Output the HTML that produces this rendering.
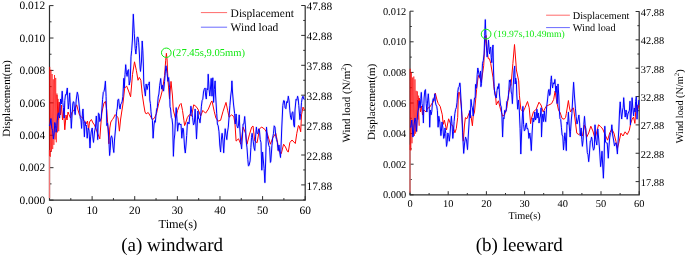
<!DOCTYPE html>
<html><head><meta charset="utf-8"><style>
html,body{margin:0;padding:0;background:#fff;width:685px;height:257px;overflow:hidden}
svg{display:block;will-change:transform}
text{font-family:"Liberation Serif", serif;fill:#000;text-rendering:geometricPrecision}
</style></head><body>
<svg width="685" height="257" viewBox="0 0 685 257">
<path d="M49.5 5.6V200.1H305.2V5.6" fill="none" stroke="#2e2e2e" stroke-width="1.2"/>
<path d="M49.5 200.1h4" stroke="#2e2e2e"/>
<text x="45.2" y="203.8" text-anchor="end" font-size="11.4">0.000</text>
<path d="M49.5 183.89h2" stroke="#2e2e2e"/>
<path d="M49.5 167.68h4" stroke="#2e2e2e"/>
<text x="45.2" y="171.38" text-anchor="end" font-size="11.4">0.002</text>
<path d="M49.5 151.47h2" stroke="#2e2e2e"/>
<path d="M49.5 135.27h4" stroke="#2e2e2e"/>
<text x="45.2" y="138.97" text-anchor="end" font-size="11.4">0.004</text>
<path d="M49.5 119.06h2" stroke="#2e2e2e"/>
<path d="M49.5 102.85h4" stroke="#2e2e2e"/>
<text x="45.2" y="106.55" text-anchor="end" font-size="11.4">0.006</text>
<path d="M49.5 86.64h2" stroke="#2e2e2e"/>
<path d="M49.5 70.43h4" stroke="#2e2e2e"/>
<text x="45.2" y="74.13" text-anchor="end" font-size="11.4">0.008</text>
<path d="M49.5 54.23h2" stroke="#2e2e2e"/>
<path d="M49.5 38.02h4" stroke="#2e2e2e"/>
<text x="45.2" y="41.72" text-anchor="end" font-size="11.4">0.010</text>
<path d="M49.5 21.81h2" stroke="#2e2e2e"/>
<path d="M49.5 5.6h4" stroke="#2e2e2e"/>
<text x="45.2" y="9.3" text-anchor="end" font-size="11.4">0.012</text>
<path d="M305.2 5.5h-4" stroke="#2e2e2e"/>
<text x="306.6" y="10.2" font-size="11.4">47.88</text>
<path d="M305.2 20.45h-2" stroke="#2e2e2e"/>
<path d="M305.2 35.4h-4" stroke="#2e2e2e"/>
<text x="306.6" y="40.1" font-size="11.4">42.88</text>
<path d="M305.2 50.35h-2" stroke="#2e2e2e"/>
<path d="M305.2 65.3h-4" stroke="#2e2e2e"/>
<text x="306.6" y="70" font-size="11.4">37.88</text>
<path d="M305.2 80.25h-2" stroke="#2e2e2e"/>
<path d="M305.2 95.2h-4" stroke="#2e2e2e"/>
<text x="306.6" y="99.9" font-size="11.4">32.88</text>
<path d="M305.2 110.15h-2" stroke="#2e2e2e"/>
<path d="M305.2 125.1h-4" stroke="#2e2e2e"/>
<text x="306.6" y="129.8" font-size="11.4">27.88</text>
<path d="M305.2 140.05h-2" stroke="#2e2e2e"/>
<path d="M305.2 155h-4" stroke="#2e2e2e"/>
<text x="306.6" y="159.7" font-size="11.4">22.88</text>
<path d="M305.2 169.95h-2" stroke="#2e2e2e"/>
<path d="M305.2 184.9h-4" stroke="#2e2e2e"/>
<text x="306.6" y="189.6" font-size="11.4">17.88</text>
<path d="M305.2 199.85h-2" stroke="#2e2e2e"/>
<path d="M49.5 200.1v-4" stroke="#2e2e2e"/>
<text x="49.5" y="214.2" text-anchor="middle" font-size="11.4">0</text>
<path d="M70.81 200.1v-2" stroke="#2e2e2e"/>
<path d="M92.12 200.1v-4" stroke="#2e2e2e"/>
<text x="92.12" y="214.2" text-anchor="middle" font-size="11.4">10</text>
<path d="M113.43 200.1v-2" stroke="#2e2e2e"/>
<path d="M134.73 200.1v-4" stroke="#2e2e2e"/>
<text x="134.73" y="214.2" text-anchor="middle" font-size="11.4">20</text>
<path d="M156.04 200.1v-2" stroke="#2e2e2e"/>
<path d="M177.35 200.1v-4" stroke="#2e2e2e"/>
<text x="177.35" y="214.2" text-anchor="middle" font-size="11.4">30</text>
<path d="M198.66 200.1v-2" stroke="#2e2e2e"/>
<path d="M219.97 200.1v-4" stroke="#2e2e2e"/>
<text x="219.97" y="214.2" text-anchor="middle" font-size="11.4">40</text>
<path d="M241.28 200.1v-2" stroke="#2e2e2e"/>
<path d="M262.58 200.1v-4" stroke="#2e2e2e"/>
<text x="262.58" y="214.2" text-anchor="middle" font-size="11.4">50</text>
<path d="M283.89 200.1v-2" stroke="#2e2e2e"/>
<path d="M305.2 200.1v-4" stroke="#2e2e2e"/>
<text x="305.2" y="214.2" text-anchor="middle" font-size="11.4">60</text>
<text x="177.8" y="227.8" text-anchor="middle" font-size="12.3">Time(s)</text>
<text transform="translate(9.8 98.5) rotate(-90)" text-anchor="middle" font-size="11">Displacement(m)</text>
<text transform="translate(349.6 103.0) rotate(-90)" text-anchor="middle" font-size="11">Wind load (N/m<tspan dy="-4" font-size="7.2">2</tspan><tspan dy="4">)</tspan></text>
<path d="M200.9 12.6H227.1" stroke="#ff6a6a" stroke-width="1"/>
<path d="M200.9 27.2H227.1" stroke="#6a6aff" stroke-width="1"/>
<text x="230.6" y="17.0" font-size="11.5">Displacement</text>
<text x="230.6" y="31.2" font-size="11.5">Wind load</text>
<text x="172.15" y="251" text-anchor="middle" font-size="19">(a) windward</text>
<path d="M49.5 198.1V150.1" stroke="#f07575" stroke-width="1.3"/>
<polyline points="49.5,156.0 49.7,66.9 50.3,156.8 50.9,69.7 51.5,151.4 52.1,74.0 52.7,149.1 53.3,79.3 53.9,144.9 54.5,75.0 55.1,139.5 55.7,77.9 56.3,142.3 56.9,93.5 57.5,132.4 58.1,98.9 58.7,131.2 59.3,103.5 60.5,115.0" fill="none" stroke="#ff0000" stroke-width="0.7" stroke-opacity="0.85"/>
<polyline points="57.0,95.0 58.0,120.0 59.2,102.0 60.5,115.0 61.5,105.0 62.5,120.0 63.5,110.0 64.8,129.8 66.0,115.0 67.0,120.0 68.0,112.0 69.0,114.6 70.5,118.0 72.0,112.0 73.5,111.0 74.6,109.0 76.7,104.8 78.0,110.0 79.5,115.0 81.6,117.4 83.0,118.0 84.5,122.0 86.0,124.0 87.5,121.0 88.6,129.8 89.5,122.0 91.4,119.5 93.0,123.0 94.5,125.0 96.0,129.0 97.5,133.0 99.8,138.9 100.8,125.0 101.8,113.0 102.6,109.0 104.0,103.0 105.4,101.3 106.8,110.4 107.8,125.0 108.9,143.8 109.8,128.0 110.8,122.0 112.4,119.5 113.5,118.0 115.2,114.6 116.5,116.0 118.0,117.4 119.4,131.2 120.5,120.0 121.7,112.0 122.8,105.0 124.7,88.0 126.7,86.1 128.6,91.0 130.6,96.8 132.5,74.5 134.5,61.8 136.4,70.6 138.0,80.3 139.3,77.4 140.9,80.3 142.2,93.9 143.8,105.0 145.0,112.0 146.1,113.9 148.2,112.5 150.3,116.0 152.4,119.5 154.5,118.1 156.6,113.2 158.7,103.4 160.7,97.0 162.6,89.2 164.6,75.6 165.7,60.2 166.4,53.3 167.1,60.0 167.9,79.5 169.5,98.9 171.0,81.4 172.4,95.0 173.3,110.0 175.5,118.8 177.6,110.4 179.7,104.8 181.1,103.4 182.5,110.4 183.9,120.2 184.6,125.6 185.3,124.0 187.4,117.4 189.5,114.6 191.6,116.0 193.7,104.8 195.8,106.2 197.9,109.0 200.7,116.0 202.8,110.4 205.6,113.2 208.4,109.0 211.2,102.0 212.0,100.9 214.3,111.8 215.9,118.0 218.2,121.1 220.6,120.3 222.9,111.8 226.0,102.4 227.6,110.2 229.1,117.2 231.5,114.9 233.8,116.5 235.0,124.0 236.1,141.1 238.5,138.8 240.8,144.2 243.1,127.1 245.5,133.3 247.0,144.2 249.3,134.9 251.7,127.1 253.0,126.0 254.8,141.1 257.1,142.7 259.5,128.7 261.8,127.1 264.9,129.4 267.2,133.3 270.4,144.2 272.7,138.0 275.8,133.3 277.3,141.0 278.9,151.2 280.0,152.3 281.3,153.6 283.6,144.2 285.5,147.0 287.5,151.6 288.3,152.0 289.8,142.7 292.0,140.0 295.3,143.5 296.8,133.3 298.4,125.6 299.1,125.8 300.7,131.8 301.5,114.9 303.0,107.1 304.6,110.0" fill="none" stroke="#ff0000" stroke-width="1" stroke-linejoin="round"/>
<polyline points="49.5,126.0 50.2,123.9 50.9,118.6 51.8,128.3 52.6,130.3 53.4,139.0 54.1,133.9 54.8,122.5 55.5,125.5 56.1,132.2 56.7,128.6 57.3,120.0 58.0,114.0 58.6,112.8 59.6,118.0 60.6,99.0 61.4,104.0 62.2,91.2 62.8,102.3 63.4,107.6 64.2,118.0 64.8,100.6 65.5,94.6 66.2,95.0 67.3,88.0 68.3,109.0 69.0,102.4 69.7,92.9 70.5,110.0 71.3,128.3 72.0,116.0 72.8,104.0 73.3,101.7 73.9,102.0 74.6,111.7 75.2,114.7 76.2,100.0 77.3,92.2 78.0,94.8 78.8,102.0 79.8,112.0 80.3,118.6 80.9,118.8 81.6,128.4 82.5,112.0 83.0,109.0 83.7,121.6 84.4,136.8 85.1,121.6 85.7,125.7 86.3,125.0 87.2,138.2 88.2,128.0 89.0,130.0 90.0,148.0 90.6,136.9 91.2,132.0 92.2,128.0 92.8,137.0 93.5,142.4 94.5,132.0 95.5,127.0 96.3,116.0 97.2,130.0 97.7,139.6 98.4,113.2 99.1,113.8 99.8,121.6 100.5,120.0 101.2,118.0 101.9,109.0 102.6,99.3 103.3,92.2 104.0,91.4 104.7,88.0 105.4,81.2 106.1,96.4 106.8,125.6 107.5,123.0 108.3,130.0 108.9,140.1 109.6,155.5 110.2,150.3 110.8,138.0 111.5,135.8 112.2,138.0 113.0,147.0 113.8,152.5 114.5,140.0 115.6,128.0 116.6,111.8 117.3,108.0 117.9,99.7 118.7,99.2 119.3,106.0 120.1,109.0 120.8,103.9 121.5,103.4 122.2,101.2 122.9,96.4 123.8,78.3 124.3,88.0 125.0,74.5 125.7,64.7 126.4,72.9 127.1,76.4 127.8,70.5 128.6,69.6 129.2,85.0 130.2,80.3 130.6,70.0 131.0,56.8 131.7,50.2 132.4,40.0 133.3,14.2 134.3,33.8 135.2,48.4 135.9,54.0 136.6,45.6 137.1,37.3 138.1,37.3 138.7,42.8 139.4,54.0 140.1,68.0 140.5,71.4 141.5,61.0 142.2,41.0 142.8,50.2 143.3,63.0 143.8,84.2 144.7,91.0 145.4,96.0 146.1,84.0 147.1,89.6 148.2,84.0 148.8,84.7 149.3,81.9 149.8,100.0 150.4,103.5 151.0,111.8 151.7,118.0 152.4,120.2 153.1,138.2 154.0,125.0 154.6,120.7 155.3,122.3 155.9,116.0 156.6,109.2 157.3,107.6 158.2,97.0 158.9,94.0 159.7,85.3 160.7,78.5 161.7,89.2 162.6,85.3 163.6,91.1 164.6,81.4 165.3,71.9 166.0,65.8 167.1,73.6 167.9,81.4 168.7,77.5 169.5,87.2 170.0,106.7 170.6,109.0 171.3,117.6 172.0,118.8 172.7,125.0 173.4,156.3 174.1,140.0 174.8,134.0 175.5,118.0 176.2,107.6 177.1,121.6 177.6,131.2 178.3,125.0 179.0,122.8 180.0,125.0 181.0,124.0 181.8,138.2 182.8,128.0 183.5,130.0 184.6,148.0 185.3,153.0 186.0,145.0 186.7,135.4 187.4,123.0 188.0,122.0 189.0,124.0 189.7,116.1 190.3,115.0 190.9,106.2 191.9,113.3 192.6,117.5 193.5,125.0 194.4,122.8 195.1,109.0 195.8,122.0 196.5,138.9 197.3,123.0 197.9,111.0 198.6,118.8 199.3,118.8 200.0,122.8 200.7,116.1 201.4,106.2 202.1,100.6 202.8,99.2 203.5,92.0 204.2,89.4 205.1,88.0 205.6,95.0 206.3,99.0 207.0,88.5 207.7,90.0 208.2,74.2 209.1,89.6 209.8,96.0 210.5,88.0 211.2,78.4 212.0,96.2 212.8,77.8 213.6,102.4 214.3,89.6 215.1,80.9 215.6,95.0 216.7,113.3 217.4,124.0 218.2,125.8 219.0,131.8 219.8,145.0 220.6,152.0 221.3,140.0 222.1,133.3 222.9,140.0 223.7,152.8 224.4,140.0 225.2,128.7 226.0,135.0 226.8,139.6 227.5,132.0 228.3,127.1 229.2,115.0 229.9,105.6 230.7,96.0 231.5,90.0 231.9,80.9 232.5,92.0 233.5,104.0 234.6,113.3 235.3,124.0 236.1,114.0 237.0,126.0 237.8,128.0 238.5,125.0 239.2,114.9 239.8,128.0 240.5,140.0 241.6,148.9 242.5,135.0 243.1,124.0 243.9,123.8 244.7,116.5 245.5,127.0 246.2,141.1 247.0,147.9 247.8,159.3 248.4,165.8 249.0,165.6 250.1,160.9 250.9,147.3 251.5,137.4 252.1,133.3 253.2,141.1 254.0,147.8 254.8,150.5 255.6,136.1 256.4,127.1 257.1,133.7 257.9,133.3 258.7,128.8 259.5,131.0 260.2,139.4 261.0,142.7 261.8,170.2 262.6,152.0 263.3,160.0 264.1,168.6 264.9,182.7 265.7,160.0 266.5,127.1 267.2,135.0 268.0,141.1 268.8,145.5 269.6,147.3 270.4,162.4 270.8,161.3 271.9,145.8 272.7,137.7 273.5,133.3 274.2,125.8 275.0,127.1 275.8,136.6 276.6,139.6 277.4,142.8 278.1,150.5 279.0,145.0 279.8,152.9 280.5,157.5 281.3,140.0 281.8,127.0 282.8,105.6 283.6,100.6 284.4,100.9 285.1,107.8 285.9,108.7 286.7,101.6 287.5,102.6 288.3,96.2 289.1,100.9 289.8,110.2 290.6,117.4 291.4,119.6 292.1,112.5 292.9,111.8 293.8,125.0 294.5,127.1 295.0,110.0 296.0,99.3 296.8,100.3 297.6,96.2 298.2,98.7 298.8,105.6 299.9,119.6 300.7,113.5 301.5,102.4 302.2,98.0 303.0,96.2 303.8,99.1 304.6,99.3" fill="none" stroke="#3a3aff" stroke-width="2.2" stroke-opacity="0.15" stroke-linejoin="round"/>
<polyline points="49.5,126.0 50.2,123.9 50.9,118.6 51.8,128.3 52.6,130.3 53.4,139.0 54.1,133.9 54.8,122.5 55.5,125.5 56.1,132.2 56.7,128.6 57.3,120.0 58.0,114.0 58.6,112.8 59.6,118.0 60.6,99.0 61.4,104.0 62.2,91.2 62.8,102.3 63.4,107.6 64.2,118.0 64.8,100.6 65.5,94.6 66.2,95.0 67.3,88.0 68.3,109.0 69.0,102.4 69.7,92.9 70.5,110.0 71.3,128.3 72.0,116.0 72.8,104.0 73.3,101.7 73.9,102.0 74.6,111.7 75.2,114.7 76.2,100.0 77.3,92.2 78.0,94.8 78.8,102.0 79.8,112.0 80.3,118.6 80.9,118.8 81.6,128.4 82.5,112.0 83.0,109.0 83.7,121.6 84.4,136.8 85.1,121.6 85.7,125.7 86.3,125.0 87.2,138.2 88.2,128.0 89.0,130.0 90.0,148.0 90.6,136.9 91.2,132.0 92.2,128.0 92.8,137.0 93.5,142.4 94.5,132.0 95.5,127.0 96.3,116.0 97.2,130.0 97.7,139.6 98.4,113.2 99.1,113.8 99.8,121.6 100.5,120.0 101.2,118.0 101.9,109.0 102.6,99.3 103.3,92.2 104.0,91.4 104.7,88.0 105.4,81.2 106.1,96.4 106.8,125.6 107.5,123.0 108.3,130.0 108.9,140.1 109.6,155.5 110.2,150.3 110.8,138.0 111.5,135.8 112.2,138.0 113.0,147.0 113.8,152.5 114.5,140.0 115.6,128.0 116.6,111.8 117.3,108.0 117.9,99.7 118.7,99.2 119.3,106.0 120.1,109.0 120.8,103.9 121.5,103.4 122.2,101.2 122.9,96.4 123.8,78.3 124.3,88.0 125.0,74.5 125.7,64.7 126.4,72.9 127.1,76.4 127.8,70.5 128.6,69.6 129.2,85.0 130.2,80.3 130.6,70.0 131.0,56.8 131.7,50.2 132.4,40.0 133.3,14.2 134.3,33.8 135.2,48.4 135.9,54.0 136.6,45.6 137.1,37.3 138.1,37.3 138.7,42.8 139.4,54.0 140.1,68.0 140.5,71.4 141.5,61.0 142.2,41.0 142.8,50.2 143.3,63.0 143.8,84.2 144.7,91.0 145.4,96.0 146.1,84.0 147.1,89.6 148.2,84.0 148.8,84.7 149.3,81.9 149.8,100.0 150.4,103.5 151.0,111.8 151.7,118.0 152.4,120.2 153.1,138.2 154.0,125.0 154.6,120.7 155.3,122.3 155.9,116.0 156.6,109.2 157.3,107.6 158.2,97.0 158.9,94.0 159.7,85.3 160.7,78.5 161.7,89.2 162.6,85.3 163.6,91.1 164.6,81.4 165.3,71.9 166.0,65.8 167.1,73.6 167.9,81.4 168.7,77.5 169.5,87.2 170.0,106.7 170.6,109.0 171.3,117.6 172.0,118.8 172.7,125.0 173.4,156.3 174.1,140.0 174.8,134.0 175.5,118.0 176.2,107.6 177.1,121.6 177.6,131.2 178.3,125.0 179.0,122.8 180.0,125.0 181.0,124.0 181.8,138.2 182.8,128.0 183.5,130.0 184.6,148.0 185.3,153.0 186.0,145.0 186.7,135.4 187.4,123.0 188.0,122.0 189.0,124.0 189.7,116.1 190.3,115.0 190.9,106.2 191.9,113.3 192.6,117.5 193.5,125.0 194.4,122.8 195.1,109.0 195.8,122.0 196.5,138.9 197.3,123.0 197.9,111.0 198.6,118.8 199.3,118.8 200.0,122.8 200.7,116.1 201.4,106.2 202.1,100.6 202.8,99.2 203.5,92.0 204.2,89.4 205.1,88.0 205.6,95.0 206.3,99.0 207.0,88.5 207.7,90.0 208.2,74.2 209.1,89.6 209.8,96.0 210.5,88.0 211.2,78.4 212.0,96.2 212.8,77.8 213.6,102.4 214.3,89.6 215.1,80.9 215.6,95.0 216.7,113.3 217.4,124.0 218.2,125.8 219.0,131.8 219.8,145.0 220.6,152.0 221.3,140.0 222.1,133.3 222.9,140.0 223.7,152.8 224.4,140.0 225.2,128.7 226.0,135.0 226.8,139.6 227.5,132.0 228.3,127.1 229.2,115.0 229.9,105.6 230.7,96.0 231.5,90.0 231.9,80.9 232.5,92.0 233.5,104.0 234.6,113.3 235.3,124.0 236.1,114.0 237.0,126.0 237.8,128.0 238.5,125.0 239.2,114.9 239.8,128.0 240.5,140.0 241.6,148.9 242.5,135.0 243.1,124.0 243.9,123.8 244.7,116.5 245.5,127.0 246.2,141.1 247.0,147.9 247.8,159.3 248.4,165.8 249.0,165.6 250.1,160.9 250.9,147.3 251.5,137.4 252.1,133.3 253.2,141.1 254.0,147.8 254.8,150.5 255.6,136.1 256.4,127.1 257.1,133.7 257.9,133.3 258.7,128.8 259.5,131.0 260.2,139.4 261.0,142.7 261.8,170.2 262.6,152.0 263.3,160.0 264.1,168.6 264.9,182.7 265.7,160.0 266.5,127.1 267.2,135.0 268.0,141.1 268.8,145.5 269.6,147.3 270.4,162.4 270.8,161.3 271.9,145.8 272.7,137.7 273.5,133.3 274.2,125.8 275.0,127.1 275.8,136.6 276.6,139.6 277.4,142.8 278.1,150.5 279.0,145.0 279.8,152.9 280.5,157.5 281.3,140.0 281.8,127.0 282.8,105.6 283.6,100.6 284.4,100.9 285.1,107.8 285.9,108.7 286.7,101.6 287.5,102.6 288.3,96.2 289.1,100.9 289.8,110.2 290.6,117.4 291.4,119.6 292.1,112.5 292.9,111.8 293.8,125.0 294.5,127.1 295.0,110.0 296.0,99.3 296.8,100.3 297.6,96.2 298.2,98.7 298.8,105.6 299.9,119.6 300.7,113.5 301.5,102.4 302.2,98.0 303.0,96.2 303.8,99.1 304.6,99.3" fill="none" stroke="#0000ff" stroke-width="1" stroke-linejoin="round"/>
<ellipse cx="166.3" cy="52.75" rx="4.85" ry="4.7" fill="none" stroke="#11e811" stroke-width="1"/>
<text x="172.6" y="56.0" font-size="10.55" style="fill:#11e811">(27.45s,9.05mm)</text>
<path d="M410.0 11.2V194.8H639.2V11.2" fill="none" stroke="#2e2e2e" stroke-width="1.2"/>
<path d="M410.0 194.8h3.6" stroke="#2e2e2e"/>
<text x="406.3" y="198.3" text-anchor="end" font-size="10.4">0.000</text>
<path d="M410.0 179.5h1.8" stroke="#2e2e2e"/>
<path d="M410.0 164.2h3.6" stroke="#2e2e2e"/>
<text x="406.3" y="167.7" text-anchor="end" font-size="10.4">0.002</text>
<path d="M410.0 148.9h1.8" stroke="#2e2e2e"/>
<path d="M410.0 133.6h3.6" stroke="#2e2e2e"/>
<text x="406.3" y="137.1" text-anchor="end" font-size="10.4">0.004</text>
<path d="M410.0 118.3h1.8" stroke="#2e2e2e"/>
<path d="M410.0 103h3.6" stroke="#2e2e2e"/>
<text x="406.3" y="106.5" text-anchor="end" font-size="10.4">0.006</text>
<path d="M410.0 87.7h1.8" stroke="#2e2e2e"/>
<path d="M410.0 72.4h3.6" stroke="#2e2e2e"/>
<text x="406.3" y="75.9" text-anchor="end" font-size="10.4">0.008</text>
<path d="M410.0 57.1h1.8" stroke="#2e2e2e"/>
<path d="M410.0 41.8h3.6" stroke="#2e2e2e"/>
<text x="406.3" y="45.3" text-anchor="end" font-size="10.4">0.010</text>
<path d="M410.0 26.5h1.8" stroke="#2e2e2e"/>
<path d="M410.0 11.2h3.6" stroke="#2e2e2e"/>
<text x="406.3" y="14.7" text-anchor="end" font-size="10.4">0.012</text>
<path d="M639.2 11.5h-3.6" stroke="#2e2e2e"/>
<text x="640.8" y="16" font-size="10.4">47.88</text>
<path d="M639.2 25.68h-1.8" stroke="#2e2e2e"/>
<path d="M639.2 39.85h-3.6" stroke="#2e2e2e"/>
<text x="640.8" y="44.35" font-size="10.4">42.88</text>
<path d="M639.2 54.03h-1.8" stroke="#2e2e2e"/>
<path d="M639.2 68.2h-3.6" stroke="#2e2e2e"/>
<text x="640.8" y="72.7" font-size="10.4">37.88</text>
<path d="M639.2 82.38h-1.8" stroke="#2e2e2e"/>
<path d="M639.2 96.55h-3.6" stroke="#2e2e2e"/>
<text x="640.8" y="101.05" font-size="10.4">32.88</text>
<path d="M639.2 110.73h-1.8" stroke="#2e2e2e"/>
<path d="M639.2 124.9h-3.6" stroke="#2e2e2e"/>
<text x="640.8" y="129.4" font-size="10.4">27.88</text>
<path d="M639.2 139.08h-1.8" stroke="#2e2e2e"/>
<path d="M639.2 153.25h-3.6" stroke="#2e2e2e"/>
<text x="640.8" y="157.75" font-size="10.4">22.88</text>
<path d="M639.2 167.43h-1.8" stroke="#2e2e2e"/>
<path d="M639.2 181.6h-3.6" stroke="#2e2e2e"/>
<text x="640.8" y="186.1" font-size="10.4">17.88</text>
<path d="M410 194.8v-3.6" stroke="#2e2e2e"/>
<text x="410" y="207.4" text-anchor="middle" font-size="10.4">0</text>
<path d="M429.1 194.8v-1.8" stroke="#2e2e2e"/>
<path d="M448.2 194.8v-3.6" stroke="#2e2e2e"/>
<text x="448.2" y="207.4" text-anchor="middle" font-size="10.4">10</text>
<path d="M467.3 194.8v-1.8" stroke="#2e2e2e"/>
<path d="M486.4 194.8v-3.6" stroke="#2e2e2e"/>
<text x="486.4" y="207.4" text-anchor="middle" font-size="10.4">20</text>
<path d="M505.5 194.8v-1.8" stroke="#2e2e2e"/>
<path d="M524.6 194.8v-3.6" stroke="#2e2e2e"/>
<text x="524.6" y="207.4" text-anchor="middle" font-size="10.4">30</text>
<path d="M543.7 194.8v-1.8" stroke="#2e2e2e"/>
<path d="M562.8 194.8v-3.6" stroke="#2e2e2e"/>
<text x="562.8" y="207.4" text-anchor="middle" font-size="10.4">40</text>
<path d="M581.9 194.8v-1.8" stroke="#2e2e2e"/>
<path d="M601 194.8v-3.6" stroke="#2e2e2e"/>
<text x="601" y="207.4" text-anchor="middle" font-size="10.4">50</text>
<path d="M620.1 194.8v-1.8" stroke="#2e2e2e"/>
<path d="M639.2 194.8v-3.6" stroke="#2e2e2e"/>
<text x="639.2" y="207.4" text-anchor="middle" font-size="10.4">60</text>
<text x="524.6" y="218.8" text-anchor="middle" font-size="10.3">Time(s)</text>
<text transform="translate(374.5 101.9) rotate(-90)" text-anchor="middle" font-size="11">Displacement(m)</text>
<text transform="translate(683 106.3) rotate(-90)" text-anchor="middle" font-size="10.3">Wind load (N/m<tspan dy="-4" font-size="6.7">2</tspan><tspan dy="4">)</tspan></text>
<path d="M546.1 15.2H569.9" stroke="#ff6a6a" stroke-width="1"/>
<path d="M546.1 27.6H569.9" stroke="#6a6aff" stroke-width="1"/>
<text x="572.8" y="18.9" font-size="10.3">Displacement</text>
<text x="572.8" y="31.3" font-size="10.3">Wind load</text>
<text x="519.25" y="251" text-anchor="middle" font-size="19">(b) leeward</text>
<path d="M410.0 192.8V144.8" stroke="#f07575" stroke-width="1.3"/>
<polyline points="410.0,150.0 410.2,68.8 410.8,150.5 411.4,72.4 412.0,143.3 412.6,77.5 413.2,135.3 413.8,76.5 414.4,135.9 415.0,79.4 415.6,133.7 416.2,90.8 416.8,131.6 417.4,91.4 418.0,119.5 418.6,95.6 419.2,125.7 417.5,100.0" fill="none" stroke="#ff0000" stroke-width="0.7" stroke-opacity="0.85"/>
<polyline points="417.5,100.0 418.5,110.0 419.2,98.0 420.5,112.0 421.5,106.0 422.5,115.0 423.5,110.0 424.8,110.6 426.0,112.0 427.5,108.0 429.0,107.8 430.5,106.0 431.8,103.6 433.2,102.2 435.3,93.1 437.0,100.0 438.2,103.5 440.2,106.4 442.3,114.8 443.2,124.4 444.4,120.2 446.5,130.0 448.6,118.8 450.7,124.4 452.8,125.8 454.9,132.8 456.3,128.6 457.7,117.4 458.4,92.4 459.5,92.4 461.2,105.0 462.5,125.0 463.3,141.2 464.5,125.0 465.4,117.6 466.8,118.8 468.0,116.0 469.6,112.0 471.0,116.0 472.4,125.8 473.2,116.0 474.5,112.0 476.6,89.6 478.0,78.0 479.0,75.0 481.3,82.0 483.7,65.7 484.6,47.1 486.0,35.4 487.1,51.0 488.3,58.7 489.5,58.8 490.7,63.3 493.0,77.4 494.2,89.6 495.4,93.7 496.3,105.0 498.4,100.8 500.5,109.2 502.6,116.2 504.5,115.0 506.8,107.8 508.9,92.4 510.5,84.4 511.0,85.4 512.9,63.3 514.5,44.5 516.0,64.0 516.4,70.0 518.7,80.9 519.4,95.2 520.8,109.2 523.0,112.0 525.0,107.8 527.5,101.5 529.2,107.8 530.6,123.7 531.3,119.0 533.4,112.0 536.2,109.2 539.0,102.2 541.0,105.0 543.2,112.0 546.0,106.4 548.8,105.0 551.6,103.6 553.7,99.4 555.1,91.0 556.8,102.0 558.6,110.6 560.0,112.2 562.1,118.5 564.2,119.2 565.6,117.4 566.3,113.6 568.4,100.5 569.5,108.0 570.5,112.0 572.6,108.2 573.5,108.0 575.4,122.0 576.8,133.2 578.9,134.6 580.5,133.0 582.4,136.0 584.5,124.8 586.6,137.4 588.7,133.0 590.8,126.2 592.9,131.0 595.0,138.8 597.0,131.0 598.5,124.8 600.6,126.5 602.7,129.0 604.8,134.0 607.6,140.2 609.7,133.0 611.8,129.0 613.9,133.0 616.0,141.6 617.4,148.4 618.8,143.0 620.9,133.2 623.0,136.0 625.1,131.8 627.2,134.6 629.3,130.4 630.7,123.4 632.1,119.2 633.5,117.1 634.9,123.4 636.3,102.6 637.5,110.0 638.9,105.0" fill="none" stroke="#ff0000" stroke-width="1" stroke-linejoin="round"/>
<polyline points="410.0,127.0 410.8,127.2 411.8,120.0 412.9,137.0 413.4,134.6 414.0,125.0 415.0,118.0 415.7,121.1 416.4,131.4 417.3,118.0 417.8,112.0 418.5,107.8 419.2,100.8 420.2,108.0 420.8,98.7 421.3,92.4 422.0,103.4 422.7,107.8 423.4,123.0 424.1,98.0 424.8,90.7 425.5,89.6 426.2,103.7 426.9,112.0 427.6,100.9 428.3,93.8 429.2,106.0 429.7,127.2 430.4,110.0 431.1,114.8 431.8,111.3 432.5,102.2 433.2,98.7 433.9,100.8 434.9,93.8 435.4,102.1 436.0,105.0 436.7,106.2 437.4,110.6 438.1,127.2 438.8,116.2 439.8,122.0 440.9,135.6 441.4,131.1 442.0,122.0 442.9,128.0 443.7,138.4 444.4,136.3 445.0,128.0 445.8,133.5 446.5,146.4 447.1,143.3 447.8,133.0 448.6,134.5 449.3,141.2 450.0,135.0 450.7,124.0 451.4,116.2 452.1,125.4 452.8,138.4 453.5,131.3 454.1,121.6 454.9,113.4 455.6,109.3 456.3,107.8 457.0,102.5 457.7,92.4 458.4,87.6 459.1,86.8 459.8,82.9 460.1,84.0 461.0,100.0 461.9,116.0 462.6,132.8 463.7,153.4 464.5,144.0 465.5,137.0 466.5,140.0 467.5,149.6 468.2,137.0 469.0,124.0 469.6,110.6 470.3,118.0 471.0,99.4 471.7,105.8 472.4,107.8 473.2,116.0 473.8,105.0 474.5,98.0 475.2,98.0 475.5,84.4 476.1,88.2 476.6,86.8 477.2,74.7 477.8,68.0 478.6,72.0 479.5,77.4 480.5,71.0 480.9,86.7 481.5,83.6 482.5,63.3 483.3,60.5 484.1,54.0 484.7,35.5 485.3,19.6 486.2,43.2 487.1,56.9 487.8,50.5 488.5,40.0 489.5,54.0 490.1,48.9 490.7,47.0 491.2,57.4 491.8,62.7 492.4,50.1 493.0,45.0 493.5,70.0 494.2,86.7 494.8,94.3 495.4,96.0 496.3,98.0 497.0,90.6 497.7,86.7 498.3,88.6 498.9,83.6 499.5,95.0 500.5,105.0 501.2,106.7 501.9,114.8 502.6,137.0 503.3,117.6 504.0,118.8 504.7,110.4 505.4,112.0 506.1,111.4 506.8,101.3 507.5,100.8 508.2,98.4 508.9,89.6 509.4,80.1 509.9,82.0 510.5,79.7 511.2,92.0 511.8,94.1 512.4,103.6 513.3,85.0 514.0,70.4 514.7,66.1 515.2,84.0 515.7,78.0 516.4,82.0 516.8,95.0 517.7,109.2 518.5,100.0 519.3,110.0 520.1,128.6 520.8,154.0 521.5,135.0 522.2,120.0 522.9,106.4 523.6,124.4 524.3,130.9 525.0,130.0 525.7,124.8 526.4,123.0 527.0,128.6 527.5,128.0 528.2,130.2 528.9,138.4 529.8,133.0 530.6,140.0 531.3,150.6 532.1,133.0 533.0,118.0 533.6,122.0 534.2,119.4 534.8,112.0 535.5,120.0 536.2,118.0 536.9,109.2 537.8,118.0 538.5,113.0 539.0,123.0 539.8,118.0 540.4,116.0 541.1,107.8 541.5,137.0 542.3,118.0 542.9,114.0 543.6,121.6 544.3,111.0 545.0,118.0 545.7,121.6 546.7,106.4 547.5,100.0 548.4,91.0 549.0,89.4 549.6,95.5 550.2,94.0 550.8,81.4 551.4,75.9 552.0,84.5 552.6,88.0 553.2,82.7 553.7,84.0 554.3,83.8 554.9,79.4 555.8,92.4 556.5,86.0 557.2,103.6 558.0,84.0 558.8,96.0 559.3,110.0 560.0,118.8 560.7,119.5 561.4,127.2 562.1,135.1 562.8,136.0 563.5,149.9 564.2,141.6 564.9,132.8 565.6,140.0 566.3,150.6 567.0,122.0 567.7,124.4 568.4,112.2 569.2,125.0 570.1,137.0 570.5,131.8 571.3,120.0 571.9,113.6 572.6,100.0 573.6,82.3 574.4,95.0 575.4,108.2 576.1,116.4 577.0,124.0 578.0,120.0 578.9,115.0 579.6,123.1 580.3,136.0 581.2,128.0 581.8,139.8 582.4,146.3 583.1,140.2 583.8,124.7 584.5,116.4 585.2,125.8 585.9,129.0 586.6,142.0 587.3,152.6 588.0,154.7 588.7,161.7 589.4,154.0 590.3,141.0 590.9,140.8 591.5,137.0 592.1,139.4 592.7,146.0 593.5,150.2 594.3,148.4 595.0,124.8 595.8,140.0 596.8,145.0 597.8,129.0 598.8,140.0 599.6,150.0 600.6,166.6 601.3,160.0 602.0,151.2 602.7,165.0 603.4,178.2 604.1,160.0 604.8,126.2 605.5,142.0 606.5,143.0 607.2,143.0 608.3,158.2 609.0,146.0 609.7,137.9 610.4,133.2 611.1,132.5 611.8,124.8 612.7,135.0 613.6,140.0 614.5,146.0 615.5,143.0 616.1,143.1 616.7,147.0 617.4,154.0 618.0,143.0 618.8,130.0 619.5,112.0 620.2,101.9 620.9,112.0 621.7,119.0 622.6,110.0 623.2,107.4 623.7,97.7 624.4,108.0 625.2,117.0 626.0,110.0 626.6,112.6 627.2,119.2 627.9,114.0 628.7,112.0 629.4,110.2 630.0,101.2 630.4,124.8 631.4,112.0 632.1,97.7 632.8,108.0 633.6,116.0 634.3,108.0 635.0,112.0 635.6,101.5 636.3,97.0 637.0,119.2 637.8,105.0 638.3,105.0 638.9,100.0" fill="none" stroke="#3a3aff" stroke-width="2.2" stroke-opacity="0.15" stroke-linejoin="round"/>
<polyline points="410.0,127.0 410.8,127.2 411.8,120.0 412.9,137.0 413.4,134.6 414.0,125.0 415.0,118.0 415.7,121.1 416.4,131.4 417.3,118.0 417.8,112.0 418.5,107.8 419.2,100.8 420.2,108.0 420.8,98.7 421.3,92.4 422.0,103.4 422.7,107.8 423.4,123.0 424.1,98.0 424.8,90.7 425.5,89.6 426.2,103.7 426.9,112.0 427.6,100.9 428.3,93.8 429.2,106.0 429.7,127.2 430.4,110.0 431.1,114.8 431.8,111.3 432.5,102.2 433.2,98.7 433.9,100.8 434.9,93.8 435.4,102.1 436.0,105.0 436.7,106.2 437.4,110.6 438.1,127.2 438.8,116.2 439.8,122.0 440.9,135.6 441.4,131.1 442.0,122.0 442.9,128.0 443.7,138.4 444.4,136.3 445.0,128.0 445.8,133.5 446.5,146.4 447.1,143.3 447.8,133.0 448.6,134.5 449.3,141.2 450.0,135.0 450.7,124.0 451.4,116.2 452.1,125.4 452.8,138.4 453.5,131.3 454.1,121.6 454.9,113.4 455.6,109.3 456.3,107.8 457.0,102.5 457.7,92.4 458.4,87.6 459.1,86.8 459.8,82.9 460.1,84.0 461.0,100.0 461.9,116.0 462.6,132.8 463.7,153.4 464.5,144.0 465.5,137.0 466.5,140.0 467.5,149.6 468.2,137.0 469.0,124.0 469.6,110.6 470.3,118.0 471.0,99.4 471.7,105.8 472.4,107.8 473.2,116.0 473.8,105.0 474.5,98.0 475.2,98.0 475.5,84.4 476.1,88.2 476.6,86.8 477.2,74.7 477.8,68.0 478.6,72.0 479.5,77.4 480.5,71.0 480.9,86.7 481.5,83.6 482.5,63.3 483.3,60.5 484.1,54.0 484.7,35.5 485.3,19.6 486.2,43.2 487.1,56.9 487.8,50.5 488.5,40.0 489.5,54.0 490.1,48.9 490.7,47.0 491.2,57.4 491.8,62.7 492.4,50.1 493.0,45.0 493.5,70.0 494.2,86.7 494.8,94.3 495.4,96.0 496.3,98.0 497.0,90.6 497.7,86.7 498.3,88.6 498.9,83.6 499.5,95.0 500.5,105.0 501.2,106.7 501.9,114.8 502.6,137.0 503.3,117.6 504.0,118.8 504.7,110.4 505.4,112.0 506.1,111.4 506.8,101.3 507.5,100.8 508.2,98.4 508.9,89.6 509.4,80.1 509.9,82.0 510.5,79.7 511.2,92.0 511.8,94.1 512.4,103.6 513.3,85.0 514.0,70.4 514.7,66.1 515.2,84.0 515.7,78.0 516.4,82.0 516.8,95.0 517.7,109.2 518.5,100.0 519.3,110.0 520.1,128.6 520.8,154.0 521.5,135.0 522.2,120.0 522.9,106.4 523.6,124.4 524.3,130.9 525.0,130.0 525.7,124.8 526.4,123.0 527.0,128.6 527.5,128.0 528.2,130.2 528.9,138.4 529.8,133.0 530.6,140.0 531.3,150.6 532.1,133.0 533.0,118.0 533.6,122.0 534.2,119.4 534.8,112.0 535.5,120.0 536.2,118.0 536.9,109.2 537.8,118.0 538.5,113.0 539.0,123.0 539.8,118.0 540.4,116.0 541.1,107.8 541.5,137.0 542.3,118.0 542.9,114.0 543.6,121.6 544.3,111.0 545.0,118.0 545.7,121.6 546.7,106.4 547.5,100.0 548.4,91.0 549.0,89.4 549.6,95.5 550.2,94.0 550.8,81.4 551.4,75.9 552.0,84.5 552.6,88.0 553.2,82.7 553.7,84.0 554.3,83.8 554.9,79.4 555.8,92.4 556.5,86.0 557.2,103.6 558.0,84.0 558.8,96.0 559.3,110.0 560.0,118.8 560.7,119.5 561.4,127.2 562.1,135.1 562.8,136.0 563.5,149.9 564.2,141.6 564.9,132.8 565.6,140.0 566.3,150.6 567.0,122.0 567.7,124.4 568.4,112.2 569.2,125.0 570.1,137.0 570.5,131.8 571.3,120.0 571.9,113.6 572.6,100.0 573.6,82.3 574.4,95.0 575.4,108.2 576.1,116.4 577.0,124.0 578.0,120.0 578.9,115.0 579.6,123.1 580.3,136.0 581.2,128.0 581.8,139.8 582.4,146.3 583.1,140.2 583.8,124.7 584.5,116.4 585.2,125.8 585.9,129.0 586.6,142.0 587.3,152.6 588.0,154.7 588.7,161.7 589.4,154.0 590.3,141.0 590.9,140.8 591.5,137.0 592.1,139.4 592.7,146.0 593.5,150.2 594.3,148.4 595.0,124.8 595.8,140.0 596.8,145.0 597.8,129.0 598.8,140.0 599.6,150.0 600.6,166.6 601.3,160.0 602.0,151.2 602.7,165.0 603.4,178.2 604.1,160.0 604.8,126.2 605.5,142.0 606.5,143.0 607.2,143.0 608.3,158.2 609.0,146.0 609.7,137.9 610.4,133.2 611.1,132.5 611.8,124.8 612.7,135.0 613.6,140.0 614.5,146.0 615.5,143.0 616.1,143.1 616.7,147.0 617.4,154.0 618.0,143.0 618.8,130.0 619.5,112.0 620.2,101.9 620.9,112.0 621.7,119.0 622.6,110.0 623.2,107.4 623.7,97.7 624.4,108.0 625.2,117.0 626.0,110.0 626.6,112.6 627.2,119.2 627.9,114.0 628.7,112.0 629.4,110.2 630.0,101.2 630.4,124.8 631.4,112.0 632.1,97.7 632.8,108.0 633.6,116.0 634.3,108.0 635.0,112.0 635.6,101.5 636.3,97.0 637.0,119.2 637.8,105.0 638.3,105.0 638.9,100.0" fill="none" stroke="#0000ff" stroke-width="1" stroke-linejoin="round"/>
<ellipse cx="486.1" cy="34.1" rx="4.85" ry="4.85" fill="none" stroke="#11e811" stroke-width="1"/>
<text x="493.8" y="37.4" font-size="9.65" style="fill:#11e811">(19.97s,10.49mm)</text>
</svg>
</body></html>
